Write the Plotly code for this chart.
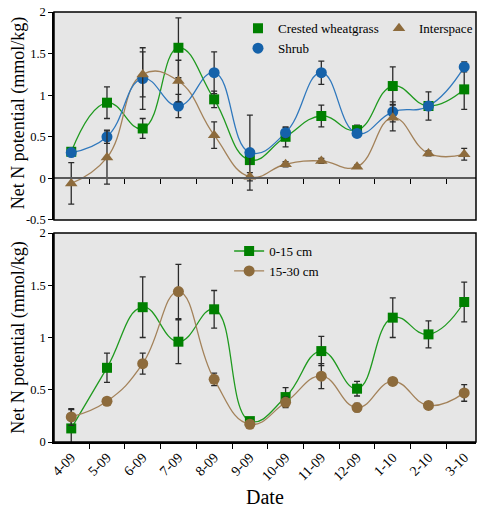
import plotly.graph_objects as go

dates = ["4-09", "5-09", "6-09", "7-09", "8-09", "9-09", "10-09", "11-09", "12-09", "1-10", "2-10", "3-10"]

# Top panel: location
cw = [0.32, 0.91, 0.60, 1.57, 0.95, 0.22, 0.50, 0.75, 0.58, 1.11, 0.87, 1.07]
cw_err = [0.04, 0.19, 0.12, 0.36, 0.10, 0.05, 0.12, 0.13, 0.06, 0.23, 0.04, 0.24]
shrub = [0.31, 0.50, 1.20, 0.87, 1.27, 0.31, 0.55, 1.27, 0.54, 0.80, 0.87, 1.34]
shrub_err = [0.04, 0.08, 0.37, 0.14, 0.25, 0.45, 0.06, 0.14, 0.04, 0.12, 0.17, 0.06]
inter = [-0.06, 0.25, 1.25, 1.17, 0.52, 0.02, 0.17, 0.21, 0.14, 0.73, 0.30, 0.29]
inter_err = [0.25, 0.32, 0.27, 0.25, 0.16, 0.05, 0.03, 0.03, 0.02, 0.16, 0.03, 0.07]

# Bottom panel: depth
d0 = [0.13, 0.71, 1.29, 0.96, 1.27, 0.20, 0.43, 0.87, 0.51, 1.19, 1.03, 1.34]
d0_err = [0.18, 0.14, 0.29, 0.21, 0.18, 0.03, 0.09, 0.14, 0.07, 0.19, 0.13, 0.19]
d1 = [0.24, 0.39, 0.75, 1.44, 0.60, 0.17, 0.38, 0.63, 0.33, 0.58, 0.35, 0.47]
d1_err = [0.08, 0.03, 0.10, 0.26, 0.06, 0.03, 0.05, 0.12, 0.04, 0.03, 0.03, 0.08]

top_yticks = [-0.5, 0, 0.5, 1, 1.5, 2]
top_yticklabels = ["-0.5", "0", "0.5", "1", "1.5", "2"]
bot_yticks = [0, 0.5, 1, 1.5, 2]
bot_yticklabels = ["0", "0.5", "1", "1.5", "2"]

GREEN_M, GREEN_L = "#008000", "#1f9a1f"
BLUE_M, BLUE_L = "#1562aa", "#2f78bd"
BROWN_M, BROWN_L = "#8d6b3c", "#a3825a"
ERR = "#2b2b2b"
FONT = "Liberation Serif, Times New Roman, serif"

def err(a):
    return dict(type="data", array=a, color=ERR, thickness=1.3, width=3)

fig = go.Figure()

# top panel lines
for ys, col in [(cw, GREEN_L), (inter, BROWN_L), (shrub, BLUE_L)]:
    fig.add_trace(go.Scatter(x=dates, y=ys, mode="lines", showlegend=False,
                             line=dict(color=col, width=1.3, shape="spline", smoothing=1.3),
                             xaxis="x", yaxis="y", hoverinfo="skip"))
fig.add_trace(go.Scatter(x=dates, y=cw, mode="markers", name="Crested wheatgrass",
                         marker=dict(symbol="square", size=10, color=GREEN_M),
                         error_y=err(cw_err), xaxis="x", yaxis="y", legend="legend", cliponaxis=False))
fig.add_trace(go.Scatter(x=dates, y=shrub, mode="markers", name="Shrub",
                         marker=dict(symbol="circle", size=11, color=BLUE_M),
                         error_y=err(shrub_err), xaxis="x", yaxis="y", legend="legend", cliponaxis=False))
fig.add_trace(go.Scatter(x=dates, y=inter, mode="markers", name="Interspace",
                         marker=dict(symbol="triangle-up", size=11, color=BROWN_M),
                         error_y=err(inter_err), xaxis="x", yaxis="y", legend="legend3", cliponaxis=False))

# bottom panel
fig.add_trace(go.Scatter(x=dates, y=d0, mode="lines+markers", name="0-15 cm",
                         line=dict(color=GREEN_L, width=1.3, shape="spline", smoothing=1.3),
                         marker=dict(symbol="square", size=10, color=GREEN_M),
                         error_y=err(d0_err), xaxis="x2", yaxis="y2", legend="legend2", cliponaxis=False))
fig.add_trace(go.Scatter(x=dates, y=d1, mode="lines+markers", name="15-30 cm",
                         line=dict(color=BROWN_L, width=1.3, shape="spline", smoothing=1.3),
                         marker=dict(symbol="circle", size=11, color=BROWN_M),
                         error_y=err(d1_err), xaxis="x2", yaxis="y2", legend="legend2", cliponaxis=False))

TOP_DOM = [0.5163, 1.0]
BOT_DOM = [0.0, 0.486]
yr_top = [-0.5, 2]
zero_pos = TOP_DOM[0] + (0 - yr_top[0]) / (yr_top[1] - yr_top[0]) * (TOP_DOM[1] - TOP_DOM[0])
XR = [-0.483, 11.33]

tickfont = dict(family=FONT, size=12.5, color="black")

fig.update_layout(
    width=478, height=508,
    margin=dict(l=54, r=0, t=12, b=66),
    paper_bgcolor="white", plot_bgcolor="#e6e6e6",
    font=dict(family=FONT, color="black"),
    xaxis=dict(domain=[0, 1], anchor="free", position=zero_pos, type="category",
               categoryorder="array", categoryarray=dates, range=XR,
               showline=True, linecolor="#5a5a5a", linewidth=2, tickson="boundaries",
               ticks="outside", ticklen=5, tickwidth=1.3, tickcolor="black",
               showticklabels=False, showgrid=False, zeroline=False),
    yaxis=dict(domain=TOP_DOM, range=yr_top, tickvals=top_yticks, ticktext=top_yticklabels,
               ticks="outside", ticklen=4, tickwidth=1.3, tickcolor="black",
               showline=True, linecolor="black", linewidth=1.5,
               showgrid=False, zeroline=False, tickfont=tickfont),
    xaxis2=dict(domain=[0, 1], anchor="y2", type="category",
                categoryorder="array", categoryarray=dates, range=XR,
                showline=True, linecolor="black", linewidth=1.5, tickson="boundaries",
                ticks="outside", ticklen=5, tickwidth=1.3, tickcolor="black",
                tickangle=-45, tickfont=dict(family=FONT, size=14, color="black"),
                showgrid=False, zeroline=False),
    yaxis2=dict(domain=BOT_DOM, anchor="x2", range=[0, 2], tickvals=bot_yticks, ticktext=bot_yticklabels,
                ticks="outside", ticklen=4, tickwidth=1.3, tickcolor="black",
                showline=True, linecolor="black", linewidth=1.5,
                showgrid=False, zeroline=False, tickfont=tickfont),
    legend=dict(x=0.436, y=0.997, xanchor="left", yanchor="top", bgcolor="rgba(0,0,0,0)",
                font=dict(family=FONT, size=13, color="black"), tracegroupgap=0),
    legend3=dict(x=0.771, y=0.997, xanchor="left", yanchor="top", bgcolor="rgba(0,0,0,0)",
                 font=dict(family=FONT, size=13, color="black")),
    legend2=dict(x=0.415, y=0.479, xanchor="left", yanchor="top", bgcolor="rgba(0,0,0,0)",
                 font=dict(family=FONT, size=13, color="black")),
    shapes=[
        dict(type="rect", xref="x domain", yref="y domain", x0=0, x1=1, y0=0, y1=1,
             line=dict(color="black", width=1.5), layer="above"),
        dict(type="rect", xref="x2 domain", yref="y2 domain", x0=0, x1=1, y0=0, y1=1,
             line=dict(color="black", width=1.5), layer="above"),
    ],
    annotations=[
        dict(text="Net N potential (mmol/kg)", x=-0.085, y=0.765, xref="paper", yref="paper",
             textangle=-90, showarrow=False, font=dict(family=FONT, size=18, color="black"),
             xanchor="center", yanchor="middle"),
        dict(text="Net N potential (mmol/kg)", x=-0.085, y=0.243, xref="paper", yref="paper",
             textangle=-90, showarrow=False, font=dict(family=FONT, size=18, color="black"),
             xanchor="center", yanchor="middle"),
        dict(text="Date", x=0.5, y=-0.128, xref="paper", yref="paper",
             showarrow=False, font=dict(family=FONT, size=20, color="black"),
             xanchor="center", yanchor="middle"),
    ],
)

fig.write_html("out.html", config={"displayModeBar": False},
               post_script="document.body.style.margin='0';document.body.style.overflow='hidden';")
